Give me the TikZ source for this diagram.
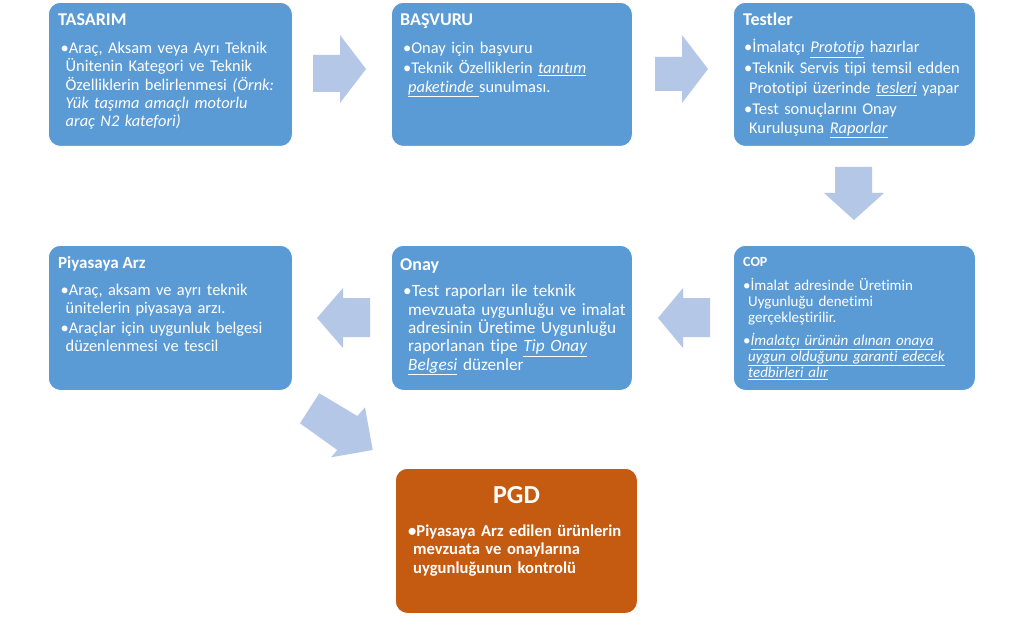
\documentclass[tikz,border=0pt]{standalone}
\usepackage{fontspec}
\setmainfont{Carlito}[Ligatures=NoCommon]
\definecolor{boxblue}{HTML}{5B9BD5}
\definecolor{arrowblue}{HTML}{B4C7E7}
\definecolor{pgdorange}{HTML}{C55A11}
\newcommand\nl{\\\hspace*{5pt}}
\newcommand\ulx[1]{\underline{#1}}
\tikzset{
  box/.style={draw=white, line width=0.8pt, fill=boxblue, rounded corners=12pt, anchor=north west, inner sep=0pt},
  ttl/.style={anchor=base west, inner sep=0pt, text=white, font=\fontsize{18}{21}\selectfont\bfseries},
  bul/.style={anchor=base west, inner sep=0pt, text=white, text width=236pt, align=left, font=\fontsize{16.4}{18.4}\selectfont},
  smallbul/.style={bul, font=\fontsize{15}{16.4}\selectfont},
  blockarrow/.style={fill=arrowblue, draw=none},
}
\begin{document}
\begin{tikzpicture}[x=1pt,y=-1pt]
\useasboundingbox (0,0) rectangle (1024,636);
\fill[white] (0,0) rectangle (1024,636);

% boxes
\node[box, minimum width=244pt, minimum height=144pt] (tas) at (48,2) {};
\node[box, minimum width=241pt, minimum height=144pt] (bas) at (391,2) {};
\node[box, minimum width=242pt, minimum height=144pt] (tes) at (733,2) {};
\node[box, minimum width=242pt, minimum height=145pt] (cop) at (733,245) {};
\node[box, minimum width=241pt, minimum height=145pt] (ona) at (391,245) {};
\node[box, minimum width=244pt, minimum height=145pt] (piy) at (48,245) {};
\node[box, fill=pgdorange, minimum width=242pt, minimum height=145pt] (pgd) at (395,468) {};

% block arrows
\fill[blockarrow] (313,55) -- (340,55) -- (340,35) -- (366,69) -- (340,103) -- (340,92) -- (313,92) -- cycle;
\fill[blockarrow] (655,57) -- (682,57) -- (682,35) -- (708,69) -- (682,103) -- (682,91) -- (655,91) -- cycle;
\fill[blockarrow] (835,167) -- (872,167) -- (872,193) -- (884,193) -- (854,220) -- (824,193) -- (835,193) -- cycle;
\fill[blockarrow] (710,298) -- (683,298) -- (683,288) -- (658,318) -- (683,348) -- (683,337) -- (710,337) -- cycle;
\fill[blockarrow] (370,298) -- (343,298) -- (343,288) -- (317,318) -- (343,348) -- (343,337) -- (370,337) -- cycle;
\fill[blockarrow] (319.3,393.3) -- (357.3,416) -- (365,407.3) -- (372.7,450) -- (331,457.3) -- (337.3,450) -- (300,423.3) -- cycle;

% TASARIM
\node[ttl] (tasT) at (58,26) {TASARIM};
\node[bul] (tasB1) at (60.5,53.3) {•Araç, Aksam veya Ayrı Teknik\nl Ünitenin Kategori ve Teknik\nl Özelliklerin belirlenmesi \textit{(Örnk:}\nl \textit{Yük taşıma amaçlı motorlu}\nl \textit{araç N2 katefori)}};

% BASVURU
\node[ttl] (basT) at (400,26) {BAŞVURU};
\node[bul] (basB1) at (403,53.3) {•Onay için başvuru};
\node[bul] (basB2) at (403,74) {•Teknik Özelliklerin \ulx{\textit{tanıtım}}\nl \ulx{\textit{paketinde }}sunulması.};

% Testler
\node[ttl] (tesT) at (743,26) {Testler};
\node[bul] (tesB1) at (744,53) {•İmalatçı \ulx{\textit{Prototip}} hazırlar};
\node[bul, font=\fontsize{16.4}{19.3}\selectfont] (tesB2) at (744,74) {•Teknik Servis tipi temsil edden\nl Prototipi üzerinde \ulx{\textit{tesleri}} yapar};
\node[bul, font=\fontsize{16.4}{19.3}\selectfont] (tesB3) at (744,114.3) {•Test sonuçlarını Onay\nl Kuruluşuna \ulx{\textit{Raporlar}}};

% COP
\node[ttl, font=\fontsize{14}{17}\selectfont\bfseries] (copT) at (743,266) {COP};
\node[smallbul] (copB1) at (743,290) {•İmalat adresinde Üretimin\nl Uygunluğu denetimi\nl gerçekleştirilir.};
\node[smallbul] (copB2) at (743,345) {•\ulx{\textit{İmalatçı ürünün alınan onaya}}\nl \ulx{\textit{uygun olduğunu garanti edecek}}\nl \ulx{\textit{tedbirleri alır}}};

% Onay
\node[ttl] (onaT) at (400,270) {Onay};
\node[bul, font=\fontsize{17.2}{18.35}\selectfont] (onaB1) at (403,296.7) {•Test raporları ile teknik\nl mevzuata uygunluğu ve imalat\nl adresinin Üretime Uygunluğu\nl raporlanan tipe \ulx{\textit{Tip Onay}}\nl \ulx{\textit{Belgesi}} düzenler};

% Piyasaya Arz
\node[ttl, font=\fontsize{17}{20}\selectfont\bfseries] (piyT) at (58,268) {Piyasaya Arz};
\node[bul, font=\fontsize{16.4}{18.3}\selectfont] (piyB1) at (60.5,295) {•Araç, aksam ve ayrı teknik\nl ünitelerin piyasaya arzı.};
\node[bul, font=\fontsize{16.4}{18.3}\selectfont] (piyB2) at (60.5,333.3) {•Araçlar için uygunluk belgesi\nl düzenlenmesi ve tescil};

% PGD
\node[anchor=base, inner sep=0pt, text=white, font=\fontsize{26}{30}\selectfont\bfseries] (pgdT) at (516.5,503) {PGD};
\node[bul, font=\fontsize{16.6}{18.2}\selectfont\bfseries] (pgdB1) at (408,536.7) {•Piyasaya Arz edilen ürünlerin\nl mevzuata ve onaylarına\nl uygunluğunun kontrolü};
\end{tikzpicture}
\end{document}
